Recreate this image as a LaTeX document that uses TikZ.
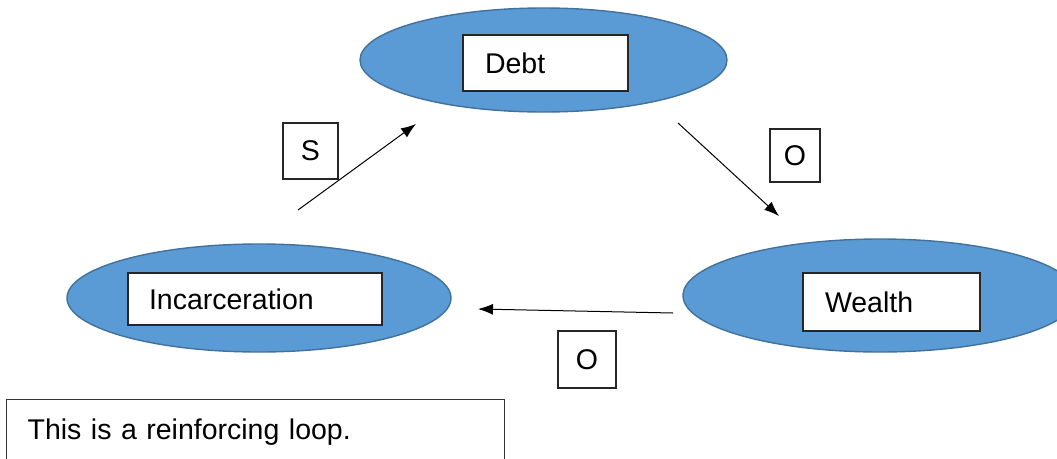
\documentclass[tikz,border=0pt]{standalone}
\usepackage{fontspec}
\setmainfont{Liberation Sans}
\usetikzlibrary{arrows.meta,shapes.geometric}
\definecolor{ellfill}{HTML}{5B9BD5}
\definecolor{elldraw}{HTML}{41719C}
\begin{document}
\begin{tikzpicture}[x=1pt,y=-1pt,
  every node/.style={font=\fontsize{28.5}{32}\selectfont},
  blob/.style={ellipse, fill=ellfill, draw=elldraw, line width=1.4pt, inner sep=0pt},
  namebox/.style={draw=black!85, fill=white, line width=1.2pt, inner ysep=0pt, align=left},
  signbox/.style={draw=black!85, fill=white, line width=1.1pt, inner sep=0pt, align=center},
  link/.style={line width=1pt, -{Latex[length=15pt,width=11pt]}}
]
\useasboundingbox (0,0) rectangle (1057,458);
\clip (0,0) rectangle (1057,458);
\fill[white] (0,0) rectangle (1057,458);
% ellipses
\node[blob, minimum width=367pt, minimum height=104pt] (debtE) at (543.5,60) {};
\node[blob, minimum width=384pt, minimum height=108pt] (incE) at (259,298) {};
\node[blob, minimum width=394pt, minimum height=113pt] (wealthE) at (880,295.5) {};
% name boxes
\node[namebox, inner xsep=22pt, text width=121pt, minimum height=56pt] (debt) at (545.5,63) {Debt};
\node[namebox, inner xsep=21pt, text width=212pt, minimum height=52pt] (inc) at (255,299) {Incarceration};
\node[namebox, inner xsep=22pt, text width=133pt, minimum height=58pt] (wealth) at (891.5,302) {Wealth};
% sign boxes
\node[signbox, minimum width=55pt, minimum height=56pt] (s1) at (310.5,151) {S};
\node[signbox, minimum width=50pt, minimum height=53pt] (o1) at (795,155.5) {O};
\node[signbox, minimum width=58pt, minimum height=57pt] (o2) at (587,359.5) {O};
% note
\node[draw=black!80, line width=1.3pt, anchor=north west, inner xsep=21pt, inner ysep=0pt,
      text width=456pt, text height=40pt, text depth=40pt, align=left] (note) at (6,399)
      {This is a reinforcing loop.};
% arrows
\coordinate (a1s) at (298,210);
\coordinate (a1e) at (416,124);
\coordinate (a2s) at (678,123);
\coordinate (a2e) at (779,216);
\coordinate (a3s) at (673,313);
\coordinate (a3e) at (478,309);
\draw[link] (a1s) -- (a1e);
\draw[link] (a2s) -- (a2e);
\draw[link] (a3s) -- (a3e);
\end{tikzpicture}
\end{document}
